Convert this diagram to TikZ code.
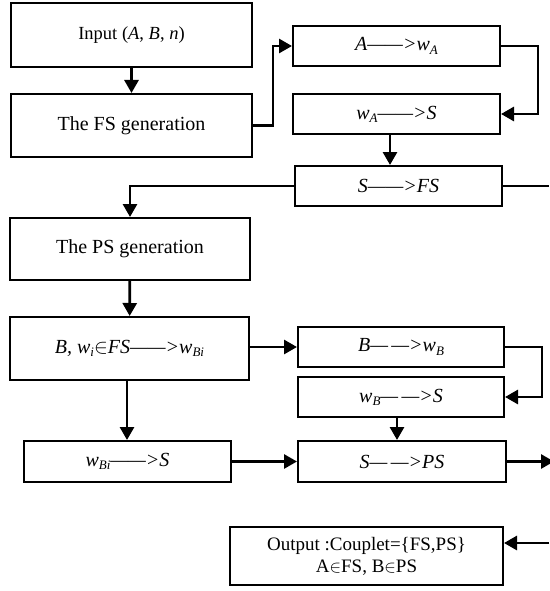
\documentclass[tikz,border=0pt]{standalone}
\usepackage{fontspec}
\setmainfont{Liberation Serif}
\usetikzlibrary{arrows.meta}
% small lowered index after w
\newcommand{\lo}[1]{\raisebox{-.35ex}{\fontsize{13}{13}\selectfont\itshape #1}}

\begin{document}
\begin{tikzpicture}[x=1pt,y=-1pt,
  box/.style={draw,line width=2pt,inner sep=0pt,minimum width=207pt,minimum height=40pt,
    font=\fontsize{20}{22}\selectfont\itshape},
  bigbox/.style={box,minimum width=241pt,minimum height=63pt,font=\fontsize{20}{22}\selectfont},
  flow/.style={line width=2.8pt,-{Triangle[length=13pt,width=14pt]}},
  line/.style={line width=2.8pt}]
\useasboundingbox (0,0) rectangle (549,591);
% left column
\node (in) [bigbox,minimum height=64pt] at (131.5,35) {\fontsize{18.5}{21}\selectfont Input (\textit{A}, \textit{B}, \textit{n})};
\node (fsgen) [bigbox] at (131.5,125.5) {The FS generation};
\node (psgen) [bigbox,minimum width=240pt,minimum height=62pt] at (130,249) {The PS generation};
\node (bw) [box,minimum width=239pt,minimum height=63pt] at (129.5,348.5) {B, w\lo{i}$\in$FS——>w\lo{Bi}};
\node (wbis) [box,minimum height=41pt] at (127.5,461.5) {w\lo{Bi}——>S};
% right column
\node (aw) [box] at (396.5,46) {A——>w\lo{A}};
\node (ws) [box] at (396.5,114) {w\lo{A}——>S};
\node (sfs) [box] at (398.5,186) {S——>FS};
\node (bwb) [box,minimum width=206pt] at (401,347) {B—\,—>w\lo{B}};
\node (wbs) [box,minimum width=206pt] at (401,397) {w\lo{B}—\,—>S};
\node (sps) [box,minimum width=208pt,minimum height=41pt] at (402,461.5) {S—\,—>PS};
\node (out) [box,minimum width=273pt,minimum height=58pt,align=center,
  font=\fontsize{19}{22}\selectfont] at (366.5,556) {Output :Couplet=\{FS,PS\}\\A$\in$FS, B$\in$PS};
% loose ends at the right margin
\coordinate (fsr) at (549,186);
\coordinate (psr) at (554,461.5);
\coordinate (outr) at (549,543);

\draw [flow] (in) -- (fsgen);
\draw [flow] (fsgen.east) -- ++(20,0) |- (aw.west);
\draw [flow] (aw.east) -- ++(37,0) |- (ws.east);
\draw [flow] (ws.south -| 390,0) -- (sfs.north -| 390,0);
\draw [flow] (sfs.west) -| (psgen.north);
\draw [line] (sfs.east) -- (fsr);
\draw [flow] (psgen) -- (bw);
\draw [flow] (bw.east |- bwb.west) -- (bwb.west);
\draw [flow] (bwb.east) -- ++(37,0) |- (wbs.east);
\draw [flow] (wbs.south -| 397,0) -- (sps.north -| 397,0);
\draw [flow] (bw.south -| 127,0) -- (wbis.north -| 127,0);
\draw [flow] (wbis.east) -- (sps.west);
\draw [flow] (sps.east) -- (psr);
\draw [flow] (outr) -- (out.east |- outr);
\end{tikzpicture}
\end{document}
